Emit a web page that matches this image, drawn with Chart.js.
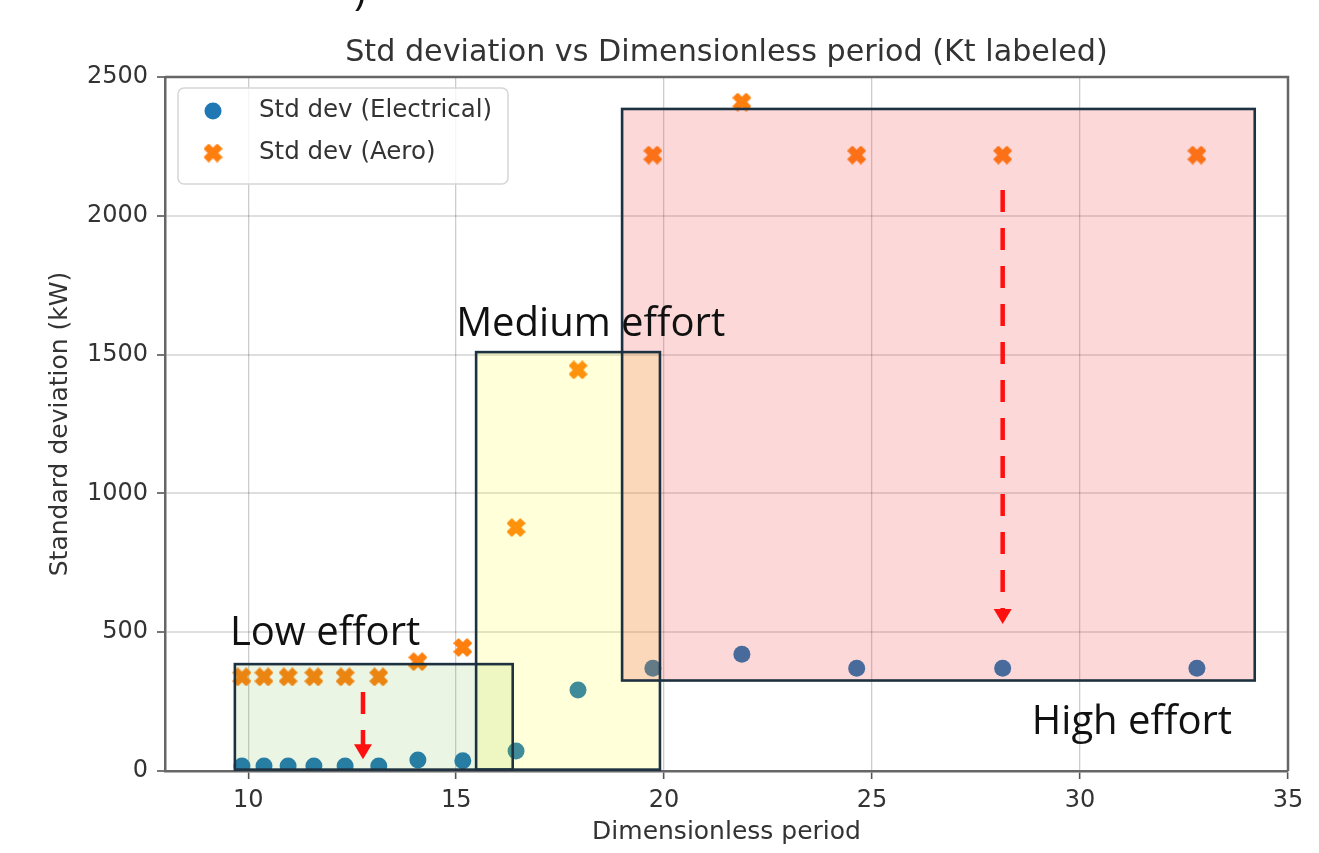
<!DOCTYPE html>
<html>
<head>
<meta charset="utf-8">
<script src="https://cdn.jsdelivr.net/npm/chart.js@4.4.1/dist/chart.umd.min.js"></script>
<style>
  html, body { margin: 0; padding: 0; background: #ffffff; }
  #wrap { width: 1319px; height: 853px; }
</style>
</head>
<body>
<div id="wrap"><canvas id="c" width="1319" height="853"></canvas></div>
<script>
// ---------------- data ----------------
const periods        = [9.85, 10.38, 10.96, 11.58, 12.33, 13.14, 14.08, 15.16, 16.44, 17.93, 19.73, 21.87, 24.63, 28.14, 32.81];
const stdElectrical  = [18, 18, 18, 18, 18, 18, 40, 37, 72, 292, 370, 421, 370, 370, 370];
const stdAero        = [339, 339, 339, 339, 339, 339, 394, 445, 877, 1445, 2219, 2410, 2219, 2219, 2219];
const seriesLabels   = ['Std dev (Electrical)', 'Std dev (Aero)'];
const xTickValues    = [10, 15, 20, 25, 30, 35];
const xTickLabels    = ['10', '15', '20', '25', '30', '35'];
const yTickValues    = [0, 500, 1000, 1500, 2000, 2500];
const yTickLabels    = ['0', '500', '1000', '1500', '2000', '2500'];
const chartTitle     = 'Std deviation vs Dimensionless period (Kt labeled)';
const xAxisTitle     = 'Dimensionless period';
const yAxisTitle     = 'Standard deviation (kW)';

// effort regions in data units: [xFrom, xTo, yFrom, yTo]
const lowEffortBox    = [9.68, 16.36, 5, 385];
const mediumEffortBox = [15.48, 19.9, 5, 1509];
const highEffortBox   = [18.99, 34.2, 326, 2385];
const effortLabels    = ['Low effort', 'Medium effort', 'High effort'];
// label anchors in data units: [x, y(baseline)]
const lowLabelAt    = [9.56, 453];
const mediumLabelAt = [15.0, 1567];
const highLabelAt   = [28.84, 133];
// red arrows in data units: [x, yStart, yTip]
const highArrow = [28.14, 2093, 530];
const lowArrow  = [12.76, 285, 42];

// ---------------- styles ----------------
const BLUE = '#1f77b4';
const ORANGE = '#ff7f0e';
const FONT = "'DejaVu Sans', sans-serif";
const TEXT = '#333333';

function makeXMarker(size, color) {
  const c = document.createElement('canvas');
  c.width = size; c.height = size;
  const g = c.getContext('2d');
  const pts = [[-1,-3],[1,-3],[1,-1],[3,-1],[3,1],[1,1],[1,3],[-1,3],[-1,1],[-3,1],[-3,-1],[-1,-1]];
  const k = (size / 2 - 1) / 2.83;
  g.translate(size / 2, size / 2);
  g.rotate(Math.PI / 4);
  g.beginPath();
  pts.forEach(([x, y], i) => i ? g.lineTo(x * k, y * k) : g.moveTo(x * k, y * k));
  g.closePath();
  g.fillStyle = color; g.fill();
  g.lineWidth = 1.6; g.strokeStyle = color; g.lineJoin = 'round'; g.stroke();
  return c;
}
const xMarker = makeXMarker(19, ORANGE);

const overlayPlugin = {
  id: 'overlay',
  afterDatasetsDraw(chart) {
    const ctx = chart.ctx;
    const xs = chart.scales.x, ys = chart.scales.y;
    const area = chart.chartArea;
    const px = v => xs.getPixelForValue(v);
    const py = v => ys.getPixelForValue(v);

    // top/right spines
    ctx.save();
    ctx.strokeStyle = '#666666';
    ctx.lineWidth = 2.5;
    ctx.beginPath();
    ctx.moveTo(area.left, area.top); ctx.lineTo(area.right, area.top); ctx.lineTo(area.right, area.bottom);
    ctx.stroke();
    ctx.restore();

    // effort boxes (fills)
    const boxes = [
      [lowEffortBox, 'rgba(100,180,50,0.13)'],
      [mediumEffortBox, 'rgba(255,255,0,0.15)'],
      [highEffortBox, 'rgba(240,60,60,0.20)']
    ];
    ctx.save();
    boxes.forEach(([b, fill]) => {
      const x0 = px(b[0]), x1 = px(b[1]), y0 = py(b[3]), y1 = py(b[2]);
      ctx.fillStyle = fill;
      ctx.fillRect(x0, y0, x1 - x0, y1 - y0);
    });
    ctx.strokeStyle = '#1d3140';
    ctx.lineWidth = 2.6;
    boxes.forEach(([b]) => {
      const x0 = px(b[0]), x1 = px(b[1]), y0 = py(b[3]), y1 = py(b[2]);
      ctx.strokeRect(x0, y0, x1 - x0, y1 - y0);
    });
    ctx.restore();

    // arrows
    function arrow(a) {
      const x = px(a[0]), yS = py(a[1]), yT = py(a[2]);
      const headLen = 15, headW = 9;
      ctx.save();
      ctx.strokeStyle = '#ff1010';
      ctx.fillStyle = '#ff1010';
      ctx.lineWidth = 4.5;
      ctx.setLineDash([22, 16]);
      ctx.beginPath(); ctx.moveTo(x, yS); ctx.lineTo(x, yT - headLen + 1); ctx.stroke();
      ctx.setLineDash([]);
      ctx.beginPath();
      ctx.moveTo(x - headW, yT - headLen); ctx.lineTo(x + headW, yT - headLen); ctx.lineTo(x, yT);
      ctx.closePath(); ctx.fill();
      ctx.restore();
    }
    arrow(highArrow);
    arrow(lowArrow);

    // effort labels
    ctx.save();
    ctx.font = "40px 'Open Sans', sans-serif";
    ctx.fillStyle = '#111111';
    ctx.textAlign = 'left';
    ctx.textBaseline = 'alphabetic';
    [[effortLabels[0], lowLabelAt], [effortLabels[1], mediumLabelAt], [effortLabels[2], highLabelAt]].forEach(([t, at]) => {
      ctx.fillText(t, px(at[0]), py(at[1]));
    });
    // cropped glyph at the very top of the picture
    ctx.textAlign = 'center';
    ctx.fillText(')', 360, 5);
    ctx.restore();

    // legend (inside, upper left)
    ctx.save();
    const lx = 178, ly = 88, lw = 330, lh = 96;
    ctx.fillStyle = 'rgba(255,255,255,0.8)';
    ctx.strokeStyle = '#d6d6d6';
    ctx.lineWidth = 1.5;
    ctx.beginPath();
    ctx.roundRect(lx, ly, lw, lh, 6);
    ctx.fill(); ctx.stroke();
    ctx.fillStyle = BLUE;
    ctx.beginPath(); ctx.arc(213, 111, 8.5, 0, Math.PI * 2); ctx.fill();
    ctx.drawImage(xMarker, 213 - xMarker.width / 2, 153 - xMarker.height / 2);
    ctx.font = '24.5px ' + FONT;
    ctx.fillStyle = TEXT;
    ctx.textAlign = 'left';
    ctx.textBaseline = 'middle';
    ctx.fillText(chart.data.datasets[0].label, 259, 111);
    ctx.fillText(chart.data.datasets[1].label, 259, 153);
    ctx.restore();
  }
};

new Chart(document.getElementById('c'), {
  type: 'scatter',
  data: {
    datasets: [
      {
        label: seriesLabels[0],
        data: periods.map((p, i) => ({ x: p, y: stdElectrical[i] })),
        backgroundColor: BLUE,
        borderWidth: 0,
        pointRadius: 8.5,
        pointStyle: 'circle'
      },
      {
        label: seriesLabels[1],
        data: periods.map((p, i) => ({ x: p, y: stdAero[i] })),
        backgroundColor: ORANGE,
        borderWidth: 0,
        pointStyle: xMarker
      }
    ]
  },
  options: {
    responsive: false,
    animation: false,
    devicePixelRatio: 1,
    layout: { padding: { left: 0, right: 31, top: 0, bottom: 0 } },
    plugins: {
      legend: { display: false },
      tooltip: { enabled: false },
      title: {
        display: true,
        text: chartTitle,
        fullSize: false,
        color: TEXT,
        font: { family: FONT, size: 30.2, weight: 'normal', lineHeight: 1.2 },
        padding: { top: 35, bottom: 5.8 }
      }
    },
    scales: {
      x: {
        type: 'linear',
        min: 8, max: 35,
        afterBuildTicks: s => { s.ticks = xTickValues.map(v => ({ value: v })); },
        afterFit: s => { s.height = 82; },
        ticks: {
          color: TEXT, font: { family: FONT, size: 24 }, padding: 7, maxRotation: 0,
          callback: (v) => xTickLabels[xTickValues.indexOf(v)]
        },
        grid: { color: 'rgba(0,0,0,0.2)', lineWidth: 1.3, tickColor: '#555555', tickLength: 8, tickWidth: 1.6 },
        border: { color: '#666666', width: 2.5 },
        title: { display: true, text: xAxisTitle, color: TEXT, font: { family: FONT, size: 25, lineHeight: 1.2 }, padding: { top: 0, bottom: 6 } }
      },
      y: {
        type: 'linear',
        min: 0, max: 2500,
        afterBuildTicks: s => { s.ticks = yTickValues.map(v => ({ value: v })); },
        afterFit: s => { s.width = 165; },
        ticks: {
          color: TEXT, font: { family: FONT, size: 24 }, padding: 9,
          callback: (v) => yTickLabels[yTickValues.indexOf(v)]
        },
        grid: { color: 'rgba(0,0,0,0.13)', lineWidth: 2, tickColor: '#555555', tickLength: 8, tickWidth: 1.6 },
        border: { color: '#666666', width: 2.5 },
        title: { display: true, text: yAxisTitle, color: TEXT, font: { family: FONT, size: 25, lineHeight: 1.2 }, padding: { top: 45, bottom: 0 } }
      }
    }
  },
  plugins: [overlayPlugin]
});
</script>
</body>
</html>
